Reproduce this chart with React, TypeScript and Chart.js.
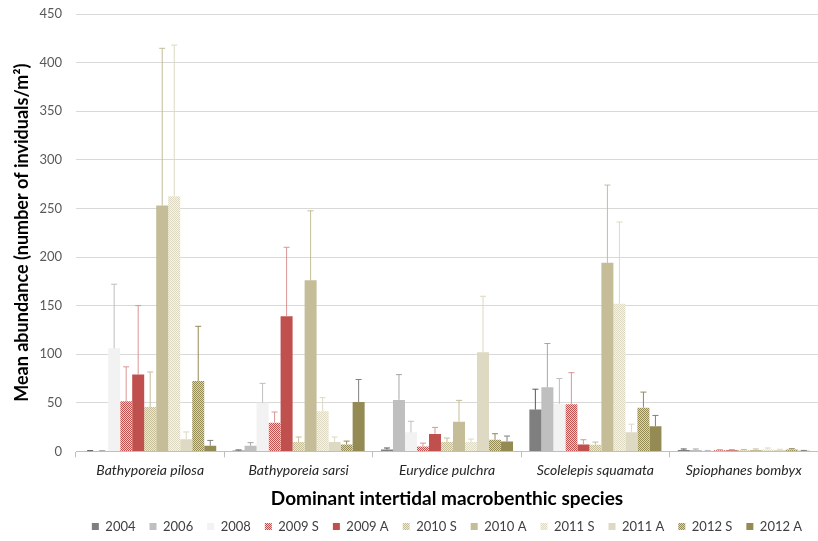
import React, { useEffect, useRef } from "react";
import { Chart, registerables } from "chart.js";

Chart.register(...registerables);

const FONT = "Lato, 'Open Sans', sans-serif";

const species = [
  "Bathyporeia pilosa",
  "Bathyporeia sarsi",
  "Eurydice pulchra",
  "Scolelepis squamata",
  "Spiophanes bombyx",
];

const seriesLabels = ["2004", "2006", "2008", "2009 S", "2009 A", "2010 S", "2010 A", "2011 S", "2011 A", "2012 S", "2012 A"];

// mean values per series (one per species)
const v2004 = [0.5, 1, 2, 43, 1.5];
const v2006 = [0.5, 5.8, 53, 66, 1.5];
const v2008 = [106, 50, 19.6, 49, 0.6];
const v2009S = [51.5, 29.5, 5, 48.4, 1.2];
const v2009A = [79, 139, 18, 7.2, 1.2];
const v2010S = [45.6, 9.6, 9.6, 6.9, 1.2];
const v2010A = [253, 176, 30.6, 194, 1.5];
const v2011S = [262.6, 41.2, 9.6, 152, 2];
const v2011A = [12.4, 9.6, 102, 19.6, 1.5];
const v2012S = [72.4, 7.2, 12, 45, 2];
const v2012A = [5.8, 50.8, 10.3, 26, 0.6];

// upper end of error bars (mean + SD)
const e2004 = [0.8, 1.5, 3.5, 64, 2.5];
const e2006 = [0.8, 9, 79, 111, 2.5];
const e2008 = [172, 70, 31, 75, 1];
const e2009S = [87, 40.5, 8.5, 81, 1.8];
const e2009A = [150, 210, 24.7, 12, 1.8];
const e2010S = [81.7, 14.8, 13.7, 9.6, 2];
const e2010A = [414.7, 247.5, 52.5, 274, 2.5];
const e2011S = [418, 55.3, 12.7, 236, 3.5];
const e2011A = [20, 14.8, 159.6, 28, 2.2];
const e2012S = [128.7, 10.6, 18.2, 61, 2.8];
const e2012A = [11.3, 74, 15.8, 37, 1];

const values = [v2004, v2006, v2008, v2009S, v2009A, v2010S, v2010A, v2011S, v2011A, v2012S, v2012A];
const errors = [e2004, e2006, e2008, e2009S, e2009A, e2010S, e2010A, e2011S, e2011A, e2012S, e2012A];

const baseColors = ["#7f7f7f", "#bfbfbf", "#f2f2f2", "#c0504d", "#c0504d", "#c4bd97", "#c4bd97", "#ddd9c3", "#ddd9c3", "#948a54", "#948a54"];
const lightColors = ["", "", "", "#f2d0cf", "", "#ece9dc", "", "#f5f3ec", "", "#d9d5c0", ""];
const patterned = [false, false, false, true, false, true, false, true, false, true, false];
const errColors = ["#595959", "#a6a6a6", "#bfbfbf", "#d99694", "#d99694", "#c4bd97", "#c4bd97", "#ddd9c3", "#ddd9c3", "#948a54", "#7f7f7f"];

function makePattern(base: string, light: string) {
  const c = document.createElement("canvas");
  c.width = 4;
  c.height = 4;
  const ctx = c.getContext("2d")!;
  for (let y = 0; y < 4; y++) {
    for (let x = 0; x < 4; x++) {
      ctx.fillStyle = (x + y) % 2 === 0 ? base : light;
      ctx.fillRect(x, y, 1, 1);
    }
  }
  return ctx.createPattern(c, "repeat");
}

const errorBarPlugin = {
  id: "errorBars",
  afterDatasetsDraw(chart: any) {
    const ctx = chart.ctx;
    const y = chart.scales.y;
    chart.data.datasets.forEach((_ds: any, di: number) => {
      const meta = chart.getDatasetMeta(di);
      meta.data.forEach((bar: any, i: number) => {
        const top = y.getPixelForValue(errors[di][i]);
        ctx.save();
        ctx.strokeStyle = errColors[di];
        ctx.lineWidth = 1;
        ctx.beginPath();
        ctx.moveTo(bar.x, bar.y);
        ctx.lineTo(bar.x, top);
        ctx.moveTo(bar.x - 3, top);
        ctx.lineTo(bar.x + 3, top);
        ctx.stroke();
        ctx.restore();
      });
    });
  },
};

export default function App() {
  const ref = useRef<HTMLCanvasElement>(null);

  useEffect(() => {
    if (!ref.current) return;
    const datasets = seriesLabels.map((label, i) => ({
      label,
      data: values[i],
      backgroundColor: patterned[i] ? makePattern(baseColors[i], lightColors[i]) : baseColors[i],
      borderWidth: 0,
      categoryPercentage: 0.89,
      barPercentage: 1,
    }));
    const chart = new Chart(ref.current, {
      type: "bar",
      data: { labels: species, datasets },
      plugins: [errorBarPlugin],
      options: {
        animation: false,
        responsive: false,
        maintainAspectRatio: false,
        layout: { padding: { top: 0, left: 11, right: 0, bottom: -2 } },
        plugins: {
          tooltip: { enabled: false },
          legend: {
            position: "bottom",
            fullSize: false,
            labels: {
              boxWidth: 7,
              boxHeight: 7,
              padding: 14,
              color: "#404040",
              font: { family: FONT, size: 13 },
            },
          },
        },
        scales: {
          x: {
            grid: { display: true, drawOnChartArea: false, offset: true, tickLength: 6, color: "#bfbfbf" },
            border: { color: "#bfbfbf" },
            ticks: {
              color: "#262626",
              padding: 5,
              maxRotation: 0,
              autoSkip: false,
              font: { family: FONT, size: 14, style: "italic" },
            },
            title: {
              display: true,
              text: "Dominant intertidal macrobenthic species",
              color: "#000000",
              font: { family: FONT, size: 19, weight: "bold" },
              padding: { top: 3, bottom: -4 },
            },
          },
          y: {
            min: 0,
            max: 450,
            afterFit(scale: any) {
              scale.width = 65;
              scale.paddingTop = 14;
            },
            ticks: {
              stepSize: 50,
              color: "#595959",
              padding: 14,
              font: { family: FONT, size: 13 },
            },
            grid: { color: "#d9d9d9", drawTicks: false, lineWidth: 1 },
            border: { display: false },
            title: {
              display: true,
              text: "Mean abundance (number of inviduals/m²)",
              color: "#000000",
              font: { family: FONT, size: 18, weight: "bold" },
              padding: { top: 0, bottom: 0 },
            },
          },
        },
      },
    });
    return () => chart.destroy();
  }, []);

  return (
    <div style={{ position: "fixed", left: 0, top: 0, width: 818, height: 541, background: "#fff" }}>
      <canvas ref={ref} width={818} height={541} style={{ width: 818, height: 541 }} />
    </div>
  );
}
